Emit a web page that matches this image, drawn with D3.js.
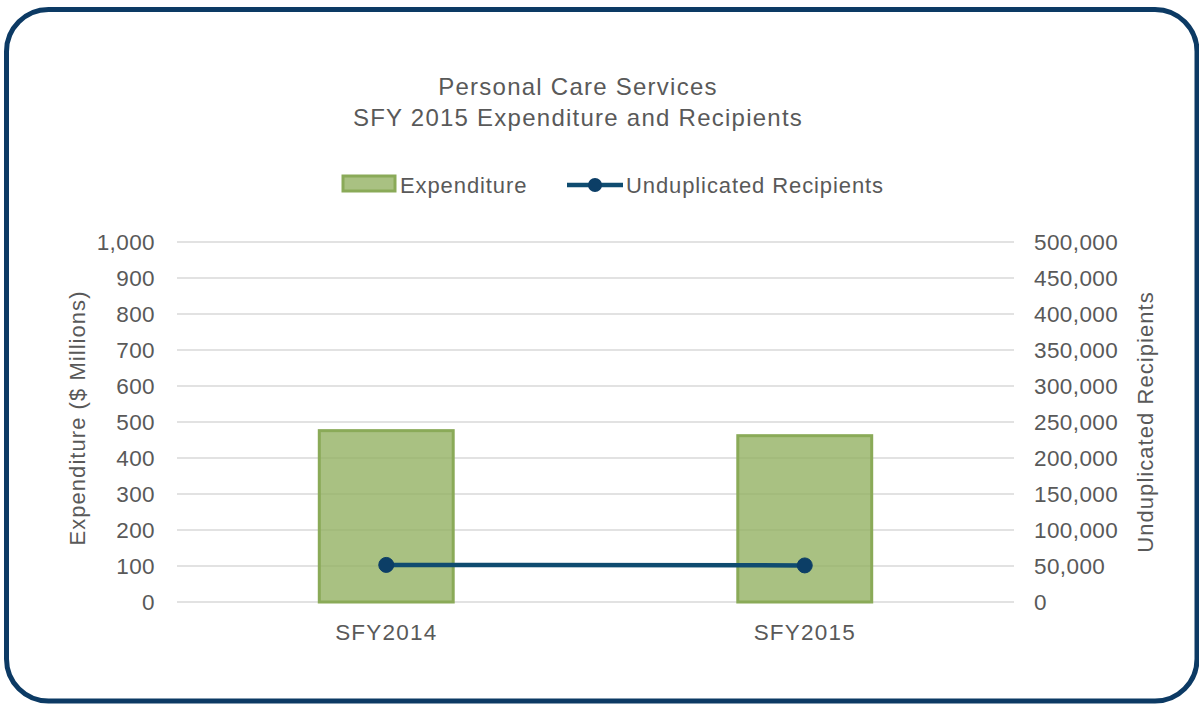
<!DOCTYPE html>
<html>
<head>
<meta charset="utf-8">
<script src="https://cdn.jsdelivr.net/npm/d3@7"></script>
<style>
  body { margin: 0; background: #fff; }
  text { font-family: "Liberation Sans", Arial, sans-serif; fill: #595959; }
  .tick { font-size: 22.5px; letter-spacing: 0.4px; }
  .title { font-size: 24px; letter-spacing: 1.25px; }
  .legend { font-size: 22px; letter-spacing: 0.9px; }
  .xlab { font-size: 22.5px; letter-spacing: 1.2px; }
  .axtitle { font-size: 22px; letter-spacing: 1.05px; }
</style>
</head>
<body>
<div id="chart"></div>
<script>
var width = 1199;
var height = 704;

// data
var categories = ['SFY2014', 'SFY2015'];
var expenditure = [476, 462];          // $ millions
var recipients = [51500, 50800];       // unduplicated recipients
var leftTicks = [0, 100, 200, 300, 400, 500, 600, 700, 800, 900, 1000];
var rightTicks = [0, 50000, 100000, 150000, 200000, 250000, 300000, 350000, 400000, 450000, 500000];
var titleLines = ['Personal Care Services', 'SFY 2015 Expenditure and Recipients'];

var plot = {left: 177, right: 1014, top: 242, bottom: 602};

var svg = d3.select('#chart')
  .append('svg')
    .attr('width', width)
    .attr('height', height);

// rounded frame
svg.append('rect')
  .attr('x', 6.5).attr('y', 9.5)
  .attr('width', 1197 - 6.5).attr('height', 701 - 9.5)
  .attr('rx', 42).attr('ry', 42)
  .attr('fill', '#fff')
  .attr('stroke', '#0c3a64')
  .attr('stroke-width', 5);

var x = d3.scaleBand()
  .domain(categories)
  .range([plot.left, plot.right])
  .paddingInner(0.68)
  .paddingOuter(0.34);

var yLeft = d3.scaleLinear().domain([0, 1000]).range([plot.bottom, plot.top]);
var yRight = d3.scaleLinear().domain([0, 500000]).range([plot.bottom, plot.top]);

// gridlines
svg.append('g')
  .selectAll('line')
  .data(leftTicks)
  .join('line')
    .attr('x1', plot.left).attr('x2', plot.right)
    .attr('y1', d => yLeft(d)).attr('y2', d => yLeft(d))
    .attr('stroke', '#d9d9d9')
    .attr('stroke-width', 1.5);

// left axis labels
var fmt = d3.format(',');
svg.append('g')
  .selectAll('text')
  .data(leftTicks)
  .join('text')
    .attr('class', 'tick')
    .attr('x', 155)
    .attr('y', d => yLeft(d))
    .attr('dy', '0.35em')
    .attr('text-anchor', 'end')
    .text(d => fmt(d));

// right axis labels
svg.append('g')
  .selectAll('text')
  .data(rightTicks)
  .join('text')
    .attr('class', 'tick')
    .attr('x', 1034)
    .attr('y', d => yRight(d))
    .attr('dy', '0.35em')
    .attr('text-anchor', 'start')
    .text(d => fmt(d));

// bars
svg.append('g')
  .selectAll('rect')
  .data(expenditure)
  .join('rect')
    .attr('x', (d, i) => x(categories[i]))
    .attr('y', d => yLeft(d))
    .attr('width', x.bandwidth())
    .attr('height', d => yLeft(0) - yLeft(d))
    .attr('fill', '#93b163')
    .attr('fill-opacity', 0.8)
    .attr('stroke', '#8aaa58')
    .attr('stroke-width', 3);

// x labels
svg.append('g')
  .selectAll('text')
  .data(categories)
  .join('text')
    .attr('class', 'xlab')
    .attr('x', d => x(d) + x.bandwidth() / 2)
    .attr('y', 640)
    .attr('text-anchor', 'middle')
    .text(d => d);

// recipients line
var pts = recipients.map((d, i) => [x(categories[i]) + x.bandwidth() / 2, yRight(d)]);
svg.append('path')
  .attr('d', d3.line()(pts))
  .attr('fill', 'none')
  .attr('stroke', '#0f4c70')
  .attr('stroke-width', 4.5);

svg.append('g')
  .selectAll('circle')
  .data(pts)
  .join('circle')
    .attr('cx', d => d[0]).attr('cy', d => d[1])
    .attr('r', 7.5)
    .attr('fill', '#0c3e66')
    .attr('stroke', '#0c3e66')
    .attr('stroke-width', 1);

// title
svg.append('g')
  .selectAll('text')
  .data(titleLines)
  .join('text')
    .attr('class', 'title')
    .attr('x', 578)
    .attr('y', (d, i) => 95 + i * 31)
    .attr('text-anchor', 'middle')
    .text(d => d);

// axis titles
svg.append('text')
  .attr('class', 'axtitle')
  .attr('transform', 'translate(85,418) rotate(-90)')
  .attr('text-anchor', 'middle')
  .text('Expenditure ($ Millions)');

svg.append('text')
  .attr('class', 'axtitle')
  .attr('transform', 'translate(1153,422) rotate(-90)')
  .attr('text-anchor', 'middle')
  .text('Unduplicated Recipients');

// legend
var legend = svg.append('g');
legend.append('rect')
  .attr('x', 343).attr('y', 176).attr('width', 52).attr('height', 15)
  .attr('fill', '#93b163').attr('fill-opacity', 0.8)
  .attr('stroke', '#8aaa58').attr('stroke-width', 3);
legend.append('text')
  .attr('class', 'legend')
  .attr('x', 400).attr('y', 193)
  .text('Expenditure');
legend.append('line')
  .attr('x1', 567).attr('x2', 623).attr('y1', 185).attr('y2', 185)
  .attr('stroke', '#0f4c70').attr('stroke-width', 4.5);
legend.append('circle')
  .attr('cx', 595).attr('cy', 185).attr('r', 7)
  .attr('fill', '#0c3e66');
legend.append('text')
  .attr('class', 'legend')
  .attr('x', 626).attr('y', 193)
  .text('Unduplicated Recipients');
</script>
</body>
</html>
